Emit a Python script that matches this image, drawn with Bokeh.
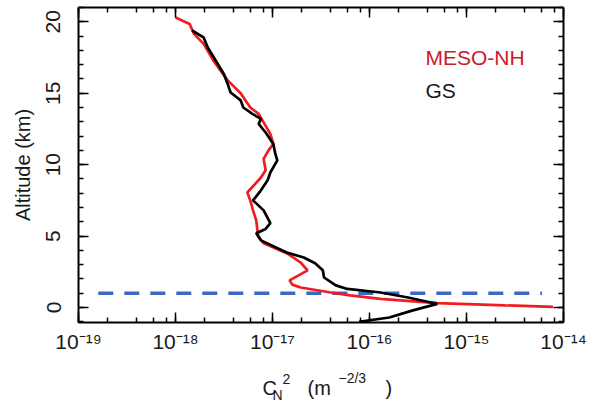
import math
from bokeh.plotting import figure
from bokeh.layouts import column
from bokeh.models import (LogAxis, LinearAxis, Label, SingleIntervalTicker,
                          LogTicker, Range1d, CustomJSTickFormatter)
from bokeh.embed import file_html
from bokeh.resources import INLINE

# MESO-NH model profile (altitude km, Cn2 m^-2/3)
meso_alt = [20.3, 19.85, 19.15, 18.45, 17.3, 15.9, 15.0, 14.0, 13.55, 12.15,
            11.45, 11.0, 10.4, 9.6, 9.1, 8.05, 7.5, 6.8, 6.1, 5.0,
            4.5, 3.8, 3.15, 2.6, 1.9, 1.6, 1.4, 1.05, 0.85, 0.6,
            0.3, 0.15, 0.05]
meso_cn2 = [1.0e-18, 1.4e-18, 1.55e-18, 1.95e-18, 2.45e-18, 3.45e-18, 4.7e-18, 5.9e-18, 7.2e-18, 9.5e-18,
            1.02e-17, 9.1e-18, 8.1e-18, 8.5e-18, 7.6e-18, 5.5e-18, 5.9e-18, 6.3e-18, 6.8e-18, 7.1e-18,
            8.1e-18, 1.4e-17, 1.95e-17, 2.3e-17, 1.5e-17, 1.6e-17, 1.95e-17, 4.0e-17, 6.3e-17, 1.3e-16,
            5.0e-16, 2.5e-15, 7.8e-15]

# GS measured profile
gs_alt = [19.4, 18.9, 18.2, 17.1, 16.35, 15.65, 15.05, 14.5, 14.0, 13.55,
          13.2, 12.85, 12.25, 11.45, 10.75, 10.3, 9.45, 8.9, 8.2, 7.5,
          6.8, 5.9, 5.5, 5.2, 4.7, 3.85, 3.5, 3.1, 2.6, 2.1,
          1.55, 1.3, 1.05, 0.7, 0.35, 0.25, -0.2, -0.7, -1.0]
gs_cn2 = [1.48e-18, 1.95e-18, 2.15e-18, 2.7e-18, 3.15e-18, 3.45e-18, 3.7e-18, 4.7e-18, 5.0e-18, 6.2e-18,
          7.6e-18, 7.2e-18, 8.5e-18, 1.02e-17, 1.07e-17, 1.12e-17, 9.5e-18, 8.9e-18, 7.6e-18, 6.3e-18,
          8.1e-18, 9.5e-18, 8.5e-18, 6.8e-18, 7.6e-18, 1.4e-17, 2.1e-17, 2.75e-17, 3.3e-17, 3.4e-17,
          4.5e-17, 5.9e-17, 1.3e-16, 2.5e-16, 4.3e-16, 5.0e-16, 2.8e-16, 1.6e-16, 7.8e-17]

# boundary-layer reference line
bl_alt = [1.0, 1.0]
bl_cn2 = [1.6e-19, 6.0e-15]

x_tick_values = [1e-19, 1e-18, 1e-17, 1e-16, 1e-15, 1e-14]
x_tick_labels = ["10\u207b\u00b9\u2079", "10\u207b\u00b9\u2078", "10\u207b\u00b9\u2077",
                 "10\u207b\u00b9\u2076", "10\u207b\u00b9\u2075", "10\u207b\u00b9\u2074"]

FONT = "Liberation Sans"
TXT = "#1a1a1a"

W = 593
LEFT, RIGHT, TOP = 78, 30, 7
FRAME_H = 315
BOTTOM = 36
H1 = TOP + FRAME_H + BOTTOM
H2 = 403 - H1

p = figure(width=W, height=H1, x_axis_type="log",
           x_range=Range1d(1e-19, 1e-14), y_range=Range1d(-1.05, 21),
           output_backend="svg", toolbar_location=None,
           min_border_left=LEFT, min_border_right=RIGHT, min_border_top=TOP,
           min_border_bottom=BOTTOM)
p.grid.visible = False
p.outline_line_color = None

blank = CustomJSTickFormatter(code="return ''")

def style_axis(ax, labels=False):
    ax.axis_line_width = 2
    ax.axis_line_color = "black"
    ax.major_tick_in = 10
    ax.major_tick_out = 0
    ax.minor_tick_in = 5
    ax.minor_tick_out = 0
    ax.major_tick_line_width = 1.5
    ax.minor_tick_line_width = 1.5
    ax.major_tick_line_color = "black"
    ax.minor_tick_line_color = "black"
    if not labels:
        ax.formatter = blank
        ax.major_label_standoff = 0
        ax.major_label_text_font_size = "0px"

# bottom x axis with 10^n labels
xa = p.xaxis[0]
style_axis(xa, labels=True)
xa.ticker = LogTicker()
xa.formatter = CustomJSTickFormatter(
    args=dict(vals=x_tick_values, labs=x_tick_labels),
    code="""
    for (let i = 0; i < vals.length; i++) {
        if (Math.abs(Math.log10(tick) - Math.log10(vals[i])) < 1e-6) return labs[i];
    }
    return '';
    """)
xa.major_label_text_font = FONT
xa.major_label_text_font_size = "21px"
xa.major_label_text_color = TXT
xa.major_label_standoff = 7

# left y axis
ya = p.yaxis[0]
style_axis(ya, labels=True)
ya.ticker = SingleIntervalTicker(interval=5, num_minor_ticks=5)
ya.major_label_orientation = "vertical"
ya.major_label_text_font = FONT
ya.major_label_text_font_size = "21px"
ya.major_label_text_color = TXT
ya.major_label_standoff = 18
ya.axis_label = "Altitude (km)"
ya.axis_label_text_font = FONT
ya.axis_label_text_font_size = "20px"
ya.axis_label_text_font_style = "normal"
ya.axis_label_text_color = TXT
ya.axis_label_standoff = 10

# mirrored axes
ta = LogAxis(ticker=LogTicker())
style_axis(ta)
p.add_layout(ta, "above")
ra = LinearAxis(ticker=SingleIntervalTicker(interval=5, num_minor_ticks=5))
style_axis(ra)
p.add_layout(ra, "right")

# data
p.line(bl_cn2, bl_alt, line_color="#3d68c4", line_width=3.5, line_dash="15 11")
p.line(meso_cn2, meso_alt, line_color="#f01c22", line_width=2.7)
p.line(gs_cn2, gs_alt, line_color="black", line_width=2.7)

# legend texts
p.add_layout(Label(x=347, y=265, x_units="screen", y_units="screen", text="MESO-NH",
                   text_font=FONT, text_font_size="21px", text_color="#cc1a2c",
                   text_baseline="alphabetic"))
p.add_layout(Label(x=347, y=232, x_units="screen", y_units="screen", text="GS",
                   text_font=FONT, text_font_size="21px", text_color=TXT,
                   text_baseline="alphabetic"))

# strip below holding the x axis title  C_N^2 (m^-2/3)
p2 = figure(width=W, height=H2, x_axis_type="log", x_range=p.x_range,
            y_range=Range1d(0, H2), output_backend="svg", toolbar_location=None,
            x_axis_location=None, y_axis_location=None,
            min_border_left=LEFT, min_border_right=RIGHT, min_border_top=0, min_border_bottom=0)
p2.grid.visible = False
p2.outline_line_color = None

def slabel(x, y, t, size):
    p2.add_layout(Label(x=x, y=y, x_units="screen", y_units="screen", text=t,
                        text_font=FONT, text_font_size=size, text_color=TXT,
                        text_baseline="alphabetic", text_align="left"))

slabel(184, 16, "C", "20px")
slabel(194, 9, "N", "14px")
slabel(204, 25, "2", "14px")
slabel(229, 16, "(m", "20px")
slabel(260, 26, "\u22122/3", "14px")
slabel(307, 16, ")", "20px")

layout = column(p, p2, spacing=0)
open("out.html", "w").write(file_html(layout, INLINE))
